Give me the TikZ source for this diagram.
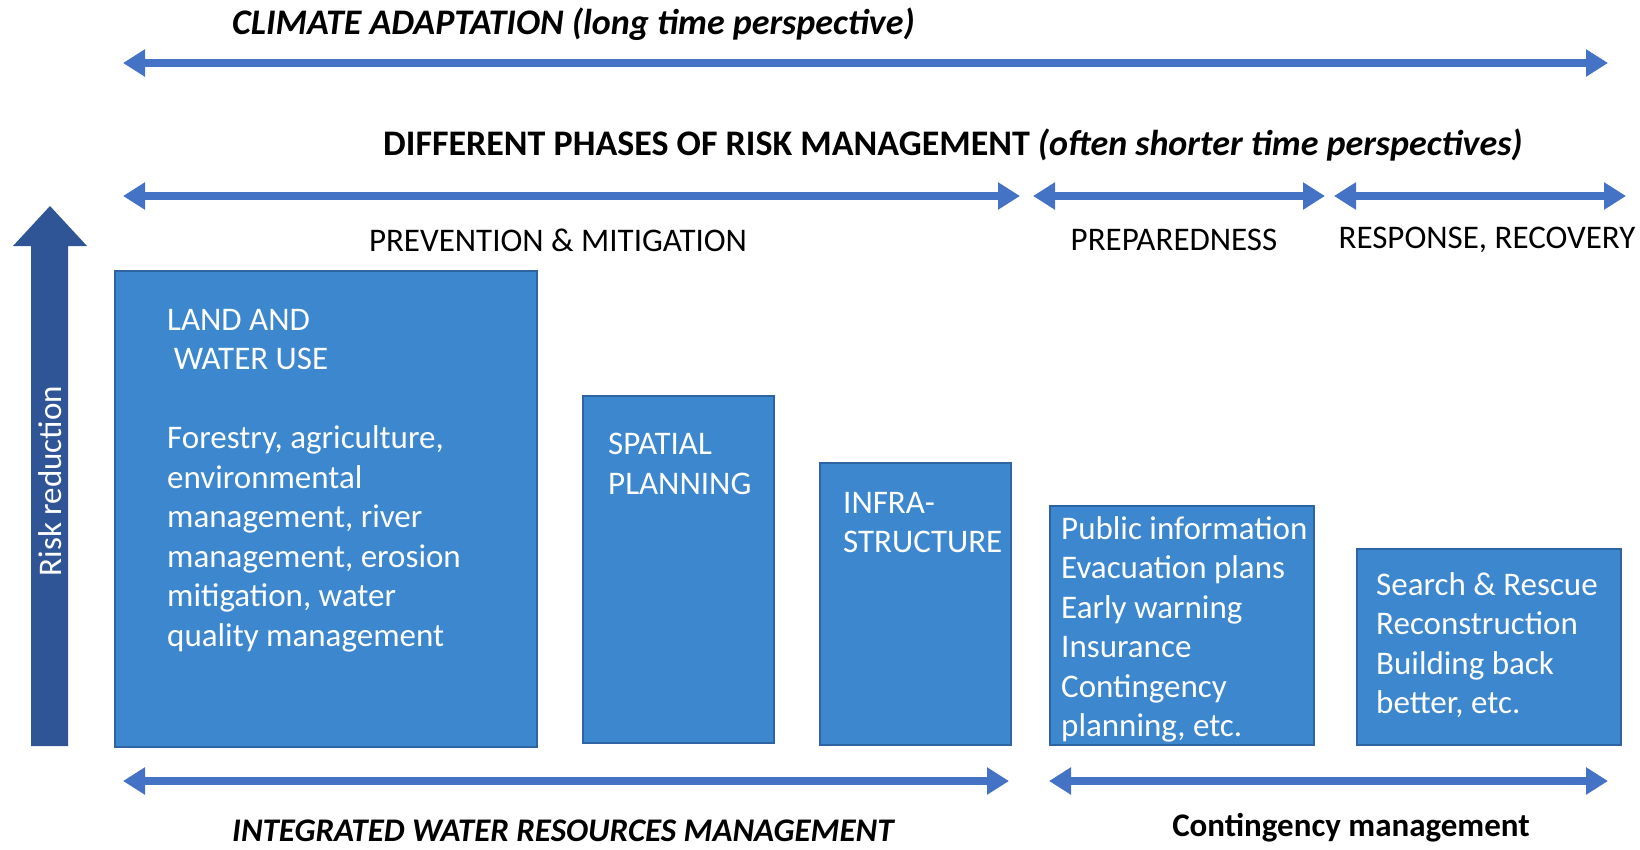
\documentclass[tikz,border=0pt]{standalone}
\usepackage{fontspec}
\setmainfont{Carlito}
\usetikzlibrary{arrows.meta}

\definecolor{spanblue}{HTML}{4472C4}
\definecolor{boxblue}{HTML}{3C87CD}
\definecolor{boxedge}{HTML}{2F64A3}
\definecolor{riskblue}{HTML}{2F5597}

\begin{document}
\begin{tikzpicture}[
    x=1pt, y=-1pt,
    font=\fontsize{33}{39.5}\selectfont,
    span/.style={spanblue, line width=8pt,
      {Triangle[width=26pt,length=22pt]}-{Triangle[width=26pt,length=22pt]}},
    phasebox/.style={fill=boxblue, draw=boxedge, line width=1.2pt},
    boxtext/.style={anchor=north west, inner sep=0pt, align=left, text=white},
    phase/.style={inner sep=0pt},
    title/.style={inner sep=0pt, font=\fontsize{36}{40}\selectfont\bfseries}
  ]
  \useasboundingbox (0,0) rectangle (1640,849);

  % time spans
  \node[title, anchor=west] (climate) at (232,24) {\itshape CLIMATE ADAPTATION (long time perspective)};
  \coordinate (ca-l) at (123,63);
  \coordinate (ca-r) at (1608,63);
  \draw[span] (ca-l) -- (ca-r);

  \node[title] (phases) at (953,145) {DIFFERENT PHASES OF RISK MANAGEMENT \itshape(often shorter time perspectives)};
  \coordinate (pm-l) at (123,196);
  \coordinate (pm-r) at (1020,196);
  \coordinate (pr-l) at (1033,196);
  \coordinate (pr-r) at (1325,196);
  \coordinate (rr-l) at (1334,196);
  \coordinate (rr-r) at (1626,196);
  \draw[span] (pm-l) -- (pm-r);
  \draw[span] (pr-l) -- (pr-r);
  \draw[span] (rr-l) -- (rr-r);

  \node[phase] (prevention) at (558,240) {PREVENTION \& MITIGATION};
  \node[phase] (preparedness) at (1174,240) {PREPAREDNESS};
  \node[phase] (response) at (1487,240) {RESPONSE, RECOVERY};

  % risk reduction arrow
  \fill[riskblue] (50,206) -- (87,246) -- (68,246) -- (68,746)
    -- (31,746) -- (31,246) -- (13,246) -- cycle;
  \node[phase, rotate=90, text=white] (risk) at (50,481) {Risk reduction};

  % measures
  \draw[phasebox] (115,271) rectangle (537,747);
  \node[boxtext] (land) at (167,309) {LAND AND\\ \hspace*{0.2em}WATER USE\\[39.5pt]
    Forestry, agriculture,\\environmental\\management, river\\management, erosion\\
    mitigation, water\\quality management};

  \draw[phasebox] (583,396) rectangle (774,743);
  \node[boxtext] (spatial) at (608,433) {SPATIAL\\PLANNING};

  \draw[phasebox] (820,463) rectangle (1011,745);
  \node[boxtext] (infra) at (843,492) {INFRA-\\STRUCTURE};

  \draw[phasebox] (1050,506) rectangle (1314,745);
  \node[boxtext] (public) at (1061,516) {Public information\\Evacuation plans\\
    Early warning\\Insurance\\Contingency\\planning, etc.};

  \draw[phasebox] (1357,549) rectangle (1621,745);
  \node[boxtext] (search) at (1376,572) {Search \& Rescue\\Reconstruction\\
    Building back\\better, etc.};

  % management frames
  \coordinate (iw-l) at (123,781);
  \coordinate (iw-r) at (1009,781);
  \coordinate (cm-l) at (1049,781);
  \coordinate (cm-r) at (1608,781);
  \draw[span] (iw-l) -- (iw-r);
  \draw[span] (cm-l) -- (cm-r);

  \node[phase, anchor=west] (iwrm) at (232,831) {\bfseries\itshape INTEGRATED WATER RESOURCES MANAGEMENT};
  \node[phase] (contingency) at (1351,828) {\bfseries Contingency management};
\end{tikzpicture}
\end{document}
